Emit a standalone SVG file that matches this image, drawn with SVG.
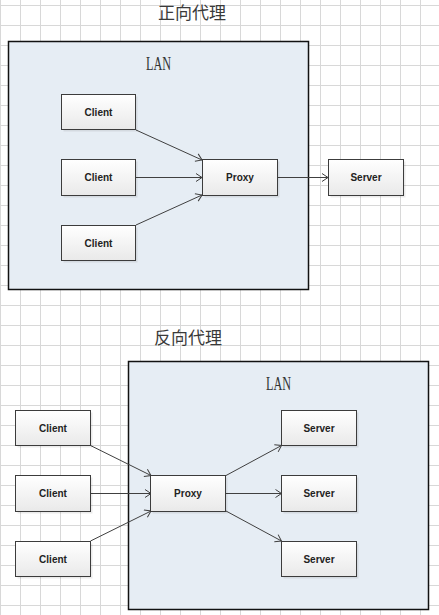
<svg xmlns="http://www.w3.org/2000/svg" width="439" height="615" viewBox="0 0 439 615">
<style>
.title{font-family:"Noto Sans CJK SC","Liberation Serif",serif;font-size:17px;fill:#3a3a3a;text-anchor:middle}
.lan{fill:#e6edf4;stroke:#111;stroke-width:1.5}
.lanlabel{font-family:"Liberation Serif",serif;font-size:18px;fill:#333}
.box{fill:url(#nodegrad);stroke:#3c3c3c;stroke-width:1}
.shadow{fill:#000;opacity:0.08}
.label{font-family:"Liberation Sans",Arial,sans-serif;font-size:10px;font-weight:bold;fill:#222;text-anchor:middle}
.edge{stroke:#404040;stroke-width:1;fill:none;marker-end:url(#arrow)}
</style>
<defs>
<pattern id="grid" width="20" height="20" patternUnits="userSpaceOnUse" x="0" y="5">
<path d="M0.5 0V20M0 0.5H20" stroke="#d8d8d8" stroke-width="1" fill="none"/>
</pattern>
<linearGradient id="nodegrad" x1="0" y1="0" x2="0" y2="1">
<stop offset="0" stop-color="#ffffff"/>
<stop offset="1" stop-color="#e9e9e9"/>
</linearGradient>
<marker id="arrow" markerUnits="userSpaceOnUse" markerWidth="10" markerHeight="10" refX="7" refY="4.5" orient="auto">
<path d="M1 0.5L7 4.5L1 8.5" fill="none" stroke="#404040" stroke-width="1"/>
</marker>
</defs>
<rect width="439" height="615" fill="#ffffff"/>
<rect width="439" height="615" fill="url(#grid)"/>

<text class="title" x="192" y="18.5">正向代理</text>
<g id="lan1">
<rect class="lan" x="8.5" y="41.5" width="300" height="248"/>
<text class="lanlabel" x="146" y="70" textLength="25" lengthAdjust="spacingAndGlyphs">LAN</text>
</g>

<text class="title" x="188" y="344">反向代理</text>
<g id="lan2">
<rect class="lan" x="128.5" y="361.5" width="300" height="248"/>
<text class="lanlabel" x="266" y="390" textLength="25" lengthAdjust="spacingAndGlyphs">LAN</text>
</g>

<g id="connectors">
<path class="edge" d="M136 130L202 160"/>
<path class="edge" d="M136 177.5H202"/>
<path class="edge" d="M136 225L202 195"/>
<path class="edge" d="M278 177.5H328"/>
<path class="edge" d="M90.5 445.5L151 475.5"/>
<path class="edge" d="M90.5 493.5H151"/>
<path class="edge" d="M90.5 541L151 511"/>
<path class="edge" d="M226 475.5L281.5 445.5"/>
<path class="edge" d="M226 493.5H281.5"/>
<path class="edge" d="M226 511L281.5 541"/>
</g>

<g id="f-client1"><rect class="shadow" x="63.5" y="96.5" width="74" height="35"/><rect class="box" x="61.5" y="94.5" width="74" height="35"/><text class="label" x="98.5" y="115.5">Client</text></g>
<g id="f-client2"><rect class="shadow" x="63.5" y="161.5" width="74" height="36"/><rect class="box" x="61.5" y="159.5" width="74" height="36"/><text class="label" x="98.5" y="181">Client</text></g>
<g id="f-client3"><rect class="shadow" x="63.5" y="227.5" width="74" height="35"/><rect class="box" x="61.5" y="225.5" width="74" height="35"/><text class="label" x="98.5" y="246.5">Client</text></g>
<g id="f-proxy"><rect class="shadow" x="204.5" y="161.5" width="75" height="36"/><rect class="box" x="202.5" y="159.5" width="75" height="36"/><text class="label" x="240" y="181">Proxy</text></g>
<g id="f-server"><rect class="shadow" x="330.5" y="161.5" width="75" height="36"/><rect class="box" x="328.5" y="159.5" width="75" height="36"/><text class="label" x="366" y="181">Server</text></g>

<g id="r-client1"><rect class="shadow" x="17.5" y="412.5" width="75" height="35"/><rect class="box" x="15.5" y="410.5" width="75" height="35"/><text class="label" x="53" y="431.5">Client</text></g>
<g id="r-client2"><rect class="shadow" x="17.5" y="477.5" width="75" height="36"/><rect class="box" x="15.5" y="475.5" width="75" height="36"/><text class="label" x="53" y="497">Client</text></g>
<g id="r-client3"><rect class="shadow" x="17.5" y="543.5" width="75" height="35"/><rect class="box" x="15.5" y="541.5" width="75" height="35"/><text class="label" x="53" y="562.5">Client</text></g>
<g id="r-proxy"><rect class="shadow" x="152.5" y="477.5" width="75" height="36"/><rect class="box" x="150.5" y="475.5" width="75" height="36"/><text class="label" x="188" y="497">Proxy</text></g>
<g id="r-server1"><rect class="shadow" x="283.5" y="412.5" width="75" height="35"/><rect class="box" x="281.5" y="410.5" width="75" height="35"/><text class="label" x="319" y="431.5">Server</text></g>
<g id="r-server2"><rect class="shadow" x="283.5" y="477.5" width="75" height="36"/><rect class="box" x="281.5" y="475.5" width="75" height="36"/><text class="label" x="319" y="497">Server</text></g>
<g id="r-server3"><rect class="shadow" x="283.5" y="543.5" width="75" height="35"/><rect class="box" x="281.5" y="541.5" width="75" height="35"/><text class="label" x="319" y="562.5">Server</text></g>
</svg>
